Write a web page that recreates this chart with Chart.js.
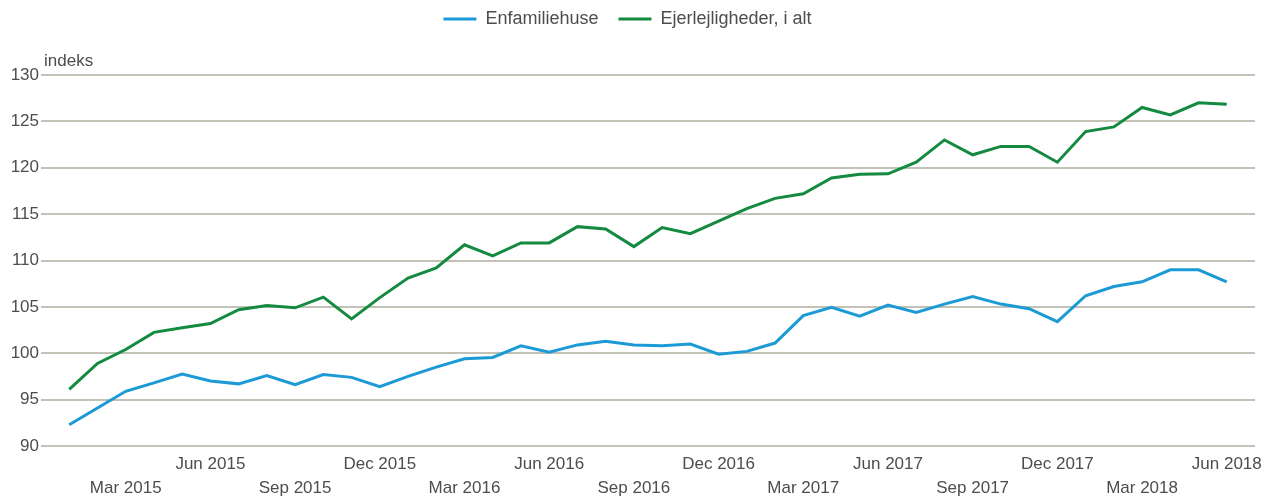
<!DOCTYPE html>
<html lang="da">
<head>
<meta charset="utf-8">
<title>Prisindeks for ejendomssalg</title>
<script src="https://cdn.jsdelivr.net/npm/chart.js@4/dist/chart.umd.min.js"></script>
<style>
    html, body { margin: 0; padding: 0; background: #ffffff; }
    #wrap { position: relative; width: 1264px; height: 497px; }
</style>
</head>
<body>
<div id="wrap"><canvas id="priceChart"></canvas></div>
<script>
// Months on the x axis (Jan 2015 - Jun 2018)
const months = [
    'Jan 2015', 'Feb 2015', 'Mar 2015', 'Apr 2015', 'May 2015', 'Jun 2015',
    'Jul 2015', 'Aug 2015', 'Sep 2015', 'Oct 2015', 'Nov 2015', 'Dec 2015',
    'Jan 2016', 'Feb 2016', 'Mar 2016', 'Apr 2016', 'May 2016', 'Jun 2016',
    'Jul 2016', 'Aug 2016', 'Sep 2016', 'Oct 2016', 'Nov 2016', 'Dec 2016',
    'Jan 2017', 'Feb 2017', 'Mar 2017', 'Apr 2017', 'May 2017', 'Jun 2017',
    'Jul 2017', 'Aug 2017', 'Sep 2017', 'Oct 2017', 'Nov 2017', 'Dec 2017',
    'Jan 2018', 'Feb 2018', 'Mar 2018', 'Apr 2018', 'May 2018', 'Jun 2018'
];

// Labels shown under the axis (alternating rows)
const tickLabels = [
    'Mar 2015', 'Jun 2015', 'Sep 2015', 'Dec 2015',
    'Mar 2016', 'Jun 2016', 'Sep 2016', 'Dec 2016',
    'Mar 2017', 'Jun 2017', 'Sep 2017', 'Dec 2017',
    'Mar 2018', 'Jun 2018'
];

const enfamiliehuse = [
    92.3, 94.1, 95.9, 96.8, 97.75, 97.0, 96.7, 97.6, 96.6, 97.7, 97.4, 96.4,
    97.5, 98.5, 99.4, 99.55, 100.8, 100.1, 100.9, 101.3, 100.9, 100.8, 101.0, 99.9,
    100.2, 101.1, 104.05, 104.95, 104.0, 105.2, 104.4, 105.3, 106.1, 105.3, 104.8, 103.4,
    106.2, 107.2, 107.7, 109.0, 109.0, 107.7
];

const ejerlejligheder = [
    96.1, 98.9, 100.4, 102.25, 102.75, 103.2, 104.7, 105.15, 104.9, 106.05, 103.7, 106.0,
    108.1, 109.2, 111.7, 110.5, 111.9, 111.9, 113.65, 113.4, 111.5, 113.55, 112.9, 114.25,
    115.6, 116.7, 117.2, 118.9, 119.3, 119.35, 120.6, 123.0, 121.4, 122.3, 122.3, 120.6,
    123.9, 124.4, 126.5, 125.7, 127.0, 126.85
];

const yMin = 90;
const yMax = 130;
const yStep = 5;

const textColor = '#4d4d4d';
const gridColor = '#c2c2b6';
const fontFamily = "'Liberation Sans', Arial, sans-serif";

/**
 * Extra space under the legend
 */
const legendGap = {
    id: 'legendGap',
    beforeInit(chart) {
        const originalFit = chart.legend.fit;
        chart.legend.fit = function fit() {
            originalFit.bind(chart.legend)();
            this.height += 37;
        };
    }
};

/**
 * Unit label above the y axis
 */
const unitLabel = {
    id: 'unitLabel',
    afterDraw(chart) {
        const ctx = chart.ctx;
        const area = chart.chartArea;
        ctx.save();
        ctx.font = '17px ' + fontFamily;
        ctx.fillStyle = textColor;
        ctx.textAlign = 'left';
        ctx.textBaseline = 'alphabetic';
        ctx.fillText('indeks', area.left + 3, area.top - 9);
        ctx.restore();
    }
};

function toPoints(values) {
    return values.map((v, i) => ({ x: i, y: v }));
}

document.addEventListener('DOMContentLoaded', function() {
    const ctx = document.getElementById('priceChart');

    new Chart(ctx, {
        type: 'line',
        data: {
            datasets: [
                {
                    label: 'Enfamiliehuse',
                    data: toPoints(enfamiliehuse),
                    borderColor: '#1c9ad6',
                    backgroundColor: '#1c9ad6',
                    borderWidth: 3,
                    pointRadius: 0,
                    tension: 0,
                    fill: false
                },
                {
                    label: 'Ejerlejligheder, i alt',
                    data: toPoints(ejerlejligheder),
                    borderColor: '#138a3f',
                    backgroundColor: '#138a3f',
                    borderWidth: 3,
                    pointRadius: 0,
                    tension: 0,
                    fill: false
                }
            ]
        },
        options: {
            responsive: true,
            maintainAspectRatio: false,
            animation: false,
            layout: {
                padding: { top: -10, right: 9, left: 0, bottom: 0 }
            },
            plugins: {
                legend: {
                    position: 'top',
                    labels: {
                        color: textColor,
                        usePointStyle: true,
                        pointStyle: 'line',
                        pointStyleWidth: 33,
                        padding: 20,
                        font: { family: fontFamily, size: 18 }
                    }
                },
                tooltip: { enabled: false }
            },
            scales: {
                x: {
                    type: 'linear',
                    min: -1,
                    max: months.length,
                    afterBuildTicks: (scale) => {
                        scale.ticks = months.map((m, i) => ({ value: i }));
                    },
                    afterFit: (scale) => {
                        scale.height = 51;
                        scale.paddingLeft = 0;
                        scale.paddingRight = 0;
                    },
                    grid: { display: false, drawTicks: false },
                    border: { display: false },
                    ticks: {
                        autoSkip: false,
                        minRotation: 0,
                        maxRotation: 0,
                        padding: 7,
                        color: textColor,
                        font: { family: fontFamily, size: 17, lineHeight: 1.38 },
                        callback: function(value) {
                            const k = tickLabels.indexOf(months[value]);
                            if (k < 0) return '';
                            return k % 2 === 0 ? ['', months[value]] : [months[value]];
                        }
                    }
                },
                y: {
                    min: yMin,
                    max: yMax,
                    afterFit: (scale) => {
                        scale.width = 41;
                    },
                    grid: {
                        color: gridColor,
                        lineWidth: 2,
                        drawTicks: false
                    },
                    border: { display: false },
                    ticks: {
                        stepSize: yStep,
                        padding: 2,
                        color: textColor,
                        font: { family: fontFamily, size: 17 }
                    }
                }
            }
        },
        plugins: [legendGap, unitLabel]
    });
});
</script>
</body>
</html>
